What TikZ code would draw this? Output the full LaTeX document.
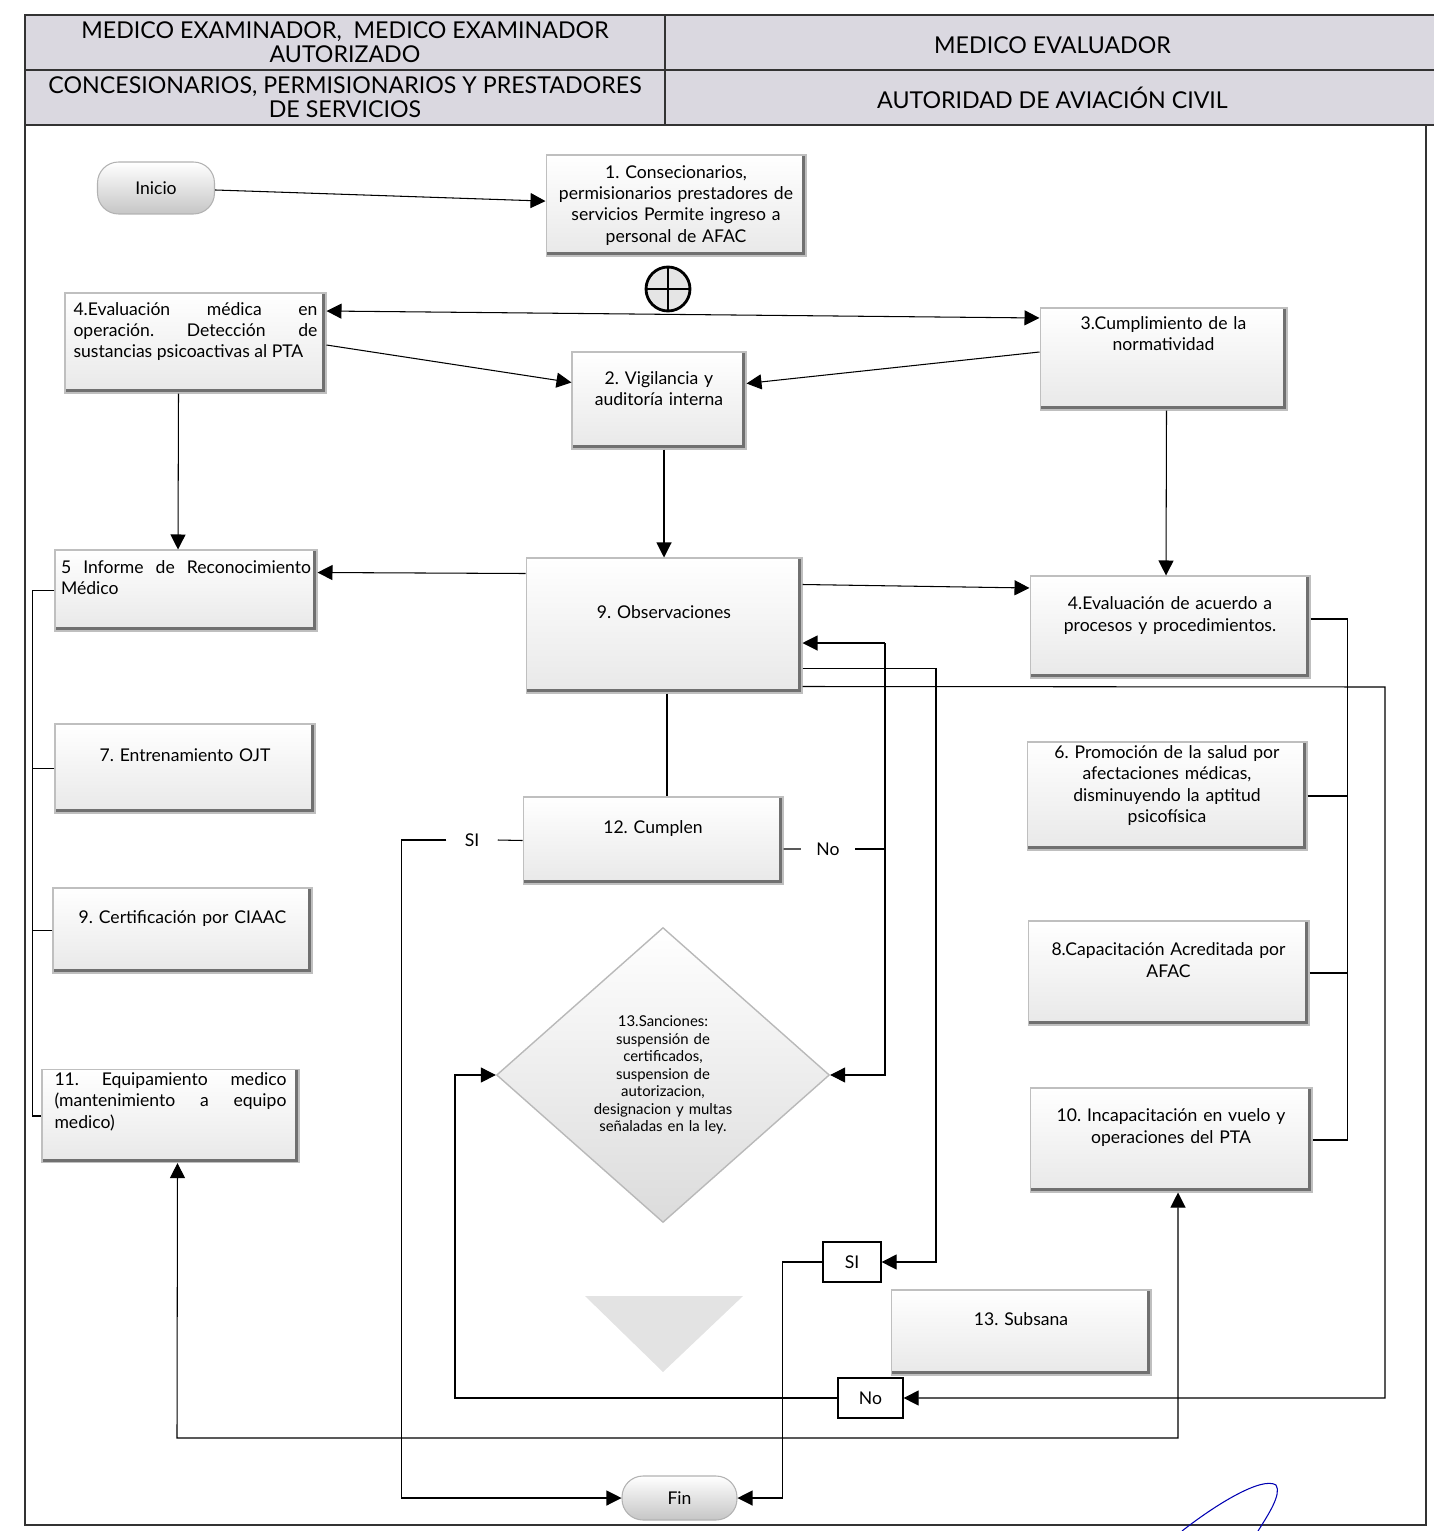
\documentclass[tikz,border=0pt]{standalone}
\usepackage{fontspec}
\setmainfont{Lato}
\usepackage{tikz}
\usetikzlibrary{arrows.meta, calc, shapes.geometric}

\definecolor{encabezado}{HTML}{DAD8E0}
\definecolor{bisel}{HTML}{707070}

\tikzset{
  box/.style={rectangle, draw=gray!50, top color=white, bottom color=gray!18,
    text width=4.9cm, align=center, inner sep=2pt,
    font=\fontsize{10}{12}\selectfont,
    execute at end node={\rule[-#1]{0pt}{#1}},
    path picture={\draw[bisel, line width=4pt]
      (path picture bounding box.south west) -- (path picture bounding box.south east)
      -- (path picture bounding box.north east);}},
  box/.default=0.52cm,
  term/.style={rounded corners=0.42cm, draw=gray!60, top color=white, bottom color=gray!45,
    font=\fontsize{10}{12}\selectfont},
  etiq/.style={rectangle, draw, line width=0.7pt, fill=white, font=\fontsize{10}{12}\selectfont},
  rama/.style={inner ysep=0pt, font=\fontsize{10}{12}\selectfont},
  hdr/.style={rectangle, draw=gray!40!black, line width=1.3pt, fill=encabezado,
    align=center, inner sep=0pt, font=\fontsize{13.2}{13.6}\selectfont},
  dia/.style={diamond, draw=gray!55, line width=0.8pt, top color=white, bottom color=gray!28,
    minimum width=6.66cm, minimum height=5.9cm, inner sep=0pt,
    text width=3.4cm, align=center, font=\fontsize{8.5}{10}\selectfont},
}

\begin{document}
\frenchspacing
\begin{tikzpicture}[x=0.02cm, y=-0.02cm, line width=0.6pt,
    >={Triangle[length=0.3cm, width=0.3cm]}]
  \useasboundingbox (0,0) rectangle (1433,1531);

  % encabezado
  \node[hdr, minimum width=12.8cm, minimum height=1.1cm] (hMed) at (345,42.5)
    {MEDICO EXAMINADOR,\ \ MEDICO EXAMINADOR\\AUTORIZADO};
  \node[hdr, minimum width=15.5cm, minimum height=1.1cm] (hEval) at (1052.5,42.5)
    {\rule{0pt}{0.45cm}MEDICO EVALUADOR};
  \node[hdr, minimum width=12.8cm, minimum height=1.1cm] (hCon) at (345,97.5)
    {CONCESIONARIOS, PERMISIONARIOS Y PRESTADORES\\DE SERVICIOS};
  \node[hdr, minimum width=15.5cm, minimum height=1.1cm] (hAut) at (1052.5,97.5)
    {\rule{0pt}{0.45cm}AUTORIDAD DE AVIACIÓN CIVIL};
  \draw[gray!40!black, line width=1.2pt] (25,125) rectangle (1426,1525);

  % inicio y primeras actividades
  \node[term, minimum width=2.34cm, minimum height=1.04cm] (inicio) at (156,188) {Inicio};
  \node[box=0cm, minimum width=5.2cm, minimum height=2.02cm] (act1) at (676,205.5)
    {1. Consecionarios,\\permisionarios prestadores de\\servicios Permite ingreso a\\personal de AFAC};
  \node[circle, draw, line width=1.6pt, fill=gray!20, minimum size=0.88cm,
    path picture={\draw[line width=1.6pt]
      (path picture bounding box.north) -- (path picture bounding box.south)
      (path picture bounding box.west) -- (path picture bounding box.east);}] (suma) at (668,289) {};

  \node[box, align=justify, text width=4.88cm, minimum width=5.22cm, minimum height=2cm] (eval4a) at (195.5,343)
    {4.Evaluación médica en\linebreak operación. Detección de\linebreak sustancias psicoactivas al PTA};
  \node[box=1.02cm, text width=4.6cm, minimum width=4.94cm, minimum height=2.04cm] (cumpl3) at (1163.5,359)
    {3.Cumplimiento de la\\normatividad};
  \node[box=0.48cm, text width=3.2cm, minimum width=3.48cm, minimum height=1.94cm] (vig2) at (659,400.5)
    {2. Vigilancia y\\auditoría interna};

  % segundo nivel
  \node[box, align=justify, text width=5cm, minimum width=5.24cm, minimum height=1.62cm] (inf5) at (186,590.5)
    {5 Informe de Reconocimiento\linebreak Médico};
  \node[box, minimum width=5.52cm, minimum height=2.7cm] (obs) at (664,625.5) {9. Observaciones};
  \node[box, text width=5.2cm, minimum width=5.6cm, minimum height=2.04cm] (eval4b) at (1170,627)
    {4.Evaluación de acuerdo a\\procesos y procedimientos.};
  \node[box, minimum width=5.2cm, minimum height=1.78cm] (ent7) at (185,768.5) {7. Entrenamiento OJT};
  \node[box=0.48cm, text width=5.2cm, minimum width=5.6cm, minimum height=2.16cm] (prom6) at (1167,796)
    {6. Promoción de la salud por\\afectaciones médicas,\\disminuyendo la aptitud\\psicofísica};
  \node[box, minimum width=5.2cm, minimum height=1.74cm] (cump12) at (653,840.5) {12. Cumplen};
  \node[box, minimum width=5.18cm, minimum height=1.7cm] (cert9) at (182.5,930.5) {9. Certificación por CIAAC};
  \node[box, text width=5.2cm, minimum width=5.62cm, minimum height=2.08cm] (cap8) at (1168.5,973)
    {8.Capacitación Acreditada por\\AFAC};
  \node[dia] (sanc) at (663,1075)
    {13.Sanciones:\\suspensión de\\certificados,\\suspension de\\autorizacion,\\designacion y multas\\señaladas en la ley.};
  \node[box=0.62cm, align=justify, text width=4.64cm, minimum width=5.14cm, minimum height=1.76cm] (equip11) at (170.5,1116)
    {11. Equipamiento medico\linebreak (mantenimiento a equipo\linebreak medico)};
  \node[box=0.56cm, text width=5.2cm, minimum width=5.64cm, minimum height=2.08cm] (inc10) at (1171,1140)
    {10. Incapacitación en vuelo y\\operaciones del PTA};

  % cierre
  \node[etiq, minimum width=1.16cm, minimum height=0.8cm] (siBox) at (852,1262) {SI};
  \node[box, minimum width=5.2cm, minimum height=1.7cm] (sub13) at (1021,1332.5) {13. Subsana};
  \node[etiq, minimum width=1.3cm, minimum height=0.8cm] (noBox) at (870.5,1398) {No};
  \fill[gray!22] (585,1296) -- (743,1296) -- (663,1372) -- cycle;
  \node[term, minimum width=2.3cm, minimum height=0.88cm] (fin) at (679.5,1498) {Fin};

  \node[rama, inner xsep=0.36cm] (siLbl) at (472,840) {SI};
  \node[rama, inner xsep=0.3cm] (noLbl) at (828,849) {No};
  \coordinate (noTop) at (885,643);
  \coordinate (siTop) at (936,1262);
  \coordinate (derTop) at (1385,687);
  \coordinate (izqBaja) at (455,1398);
  \coordinate (lazo) at (177,1438);

  % conectores
  \draw[->] (inicio) -- (act1);
  \draw[<->] ($(eval4a.east)+(0,-32)$) -- ($(cumpl3.west)+(0,-41)$);
  \draw[->] ($(eval4a.east)+(0,2)$) -- ($(vig2.west)+(0,-18)$);
  \draw[->] ($(cumpl3.west)+(0,-7)$) -- ($(vig2.east)+(0,-17)$);
  \draw[->] ($(eval4a.south)+(-17,0)$) -- ($(inf5.north)+(-8,0)$);
  \draw[->] (vig2.south -| obs.north) -- (obs.north);
  \draw[->] ($(cumpl3.south)+(3,0)$) -- ($(eval4b.north)+(-4,0)$);
  \draw[->] ($(obs.west)+(0,-52)$) -- ($(inf5.east)+(0,-18)$);
  \draw[->] ($(obs.east)+(0,-41)$) -- ($(eval4b.west)+(0,-39)$);

  % llaves laterales
  \draw (inf5.west) -- ++(-22,0) |- (equip11.west);
  \draw (ent7.west) -- ++(-22,0);
  \draw (cert9.west) -- ++(-20,0);
  \draw ($(eval4b.east)+(0,-8)$) -- ++(37,0) |- (inc10.east);
  \draw (prom6.east) -- ++(40,0);
  \draw (cap8.east) -- ++(38,0);

  % decision
  \draw ($(obs.south)+(3,0)$) -- ($(cump12.north)+(14,0)$);
  \draw (cump12.west) -- (siLbl.east);
  \draw[->] (siLbl.west) -- ++(-45,0) |- (fin.west);
  \draw ($(cump12.east)+(0,8.5)$) -- (noLbl.west);
  \draw (noLbl.east) -- (noLbl.east -| noTop);
  \draw[->] (noTop) -- (noTop -| obs.east);
  \draw[->] (noTop) |- (sanc.east);
  \draw[->] ($(obs.east)+(0,43)$) -| (siTop) -- (siBox.east);
  \draw[->] (siBox.west) -- ++(-40,0) |- (fin.east);
  \draw[->] ($(obs.east)+(0,61)$) -- (derTop) |- (noBox.east);
  \draw[->] (noBox.west) -- (izqBaja) |- (sanc.west);
  \draw[<->] ($(equip11.south)+(7,0)$) -- (lazo) -| ($(inc10.south)+(7,0)$);

  % firma
  \draw[blue!70!black, line width=0.6pt] (1182,1531) .. controls (1215,1505) and (1262,1476) .. (1276,1485)
    .. controls (1282,1494) and (1268,1515) .. (1258,1531);
\end{tikzpicture}
\end{document}
